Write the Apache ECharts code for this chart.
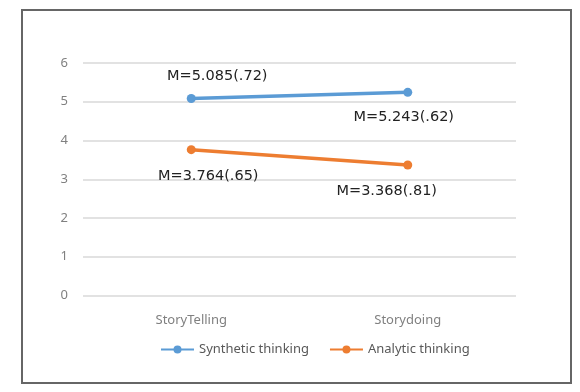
<!DOCTYPE html>
<html>
<head>
<meta charset="utf-8">
<script src="https://cdn.jsdelivr.net/npm/echarts@6/dist/echarts.min.js"></script>
<style>
  html, body { margin: 0; padding: 0; background: #fff; }
  #chart { width: 580px; height: 392px; }
</style>
</head>
<body>
<div id="chart"></div>
<script>
const categories = ["StoryTelling", "Storydoing"]
const seriesNames = ["Synthetic thinking", "Analytic thinking"]
const synMean = [5.085, 5.243]
const synSd = [".72", ".62"]
const anaMean = [3.764, 3.368]
const anaSd = [".65", ".81"]
const yTicks = [0, 1, 2, 3, 4, 5, 6]

// label offsets (px) for each point, relative to the marker centre
const synOffsets = [[26, -22], [-4, 25]]
const anaOffsets = [[17, 27], [-21, 26]]

const chart = echarts.init(document.getElementById("chart"))

const buildData = (means, sds, offsets) =>
  means.map((v, i) => ({
    value: v,
    label: {
      show: true,
      position: "inside",
      align: "center",
      verticalAlign: "middle",
      offset: offsets[i],
      formatter: "M=" + v.toFixed(3) + "(" + sds[i] + ")",
      color: "#222",
      fontSize: 14.5,
      fontFamily: "DejaVu Sans",
    },
  }))

const option = {
  animation: false,
  backgroundColor: "#fff",
  graphic: [
    {
      type: "rect",
      shape: { x: 22, y: 10, width: 549, height: 373 },
      style: { fill: "none", stroke: "#666", lineWidth: 2 },
      z: 100,
    },
  ],
  grid: {
    left: 83,
    right: 64,
    top: 63,
    bottom: 96.5,
  },
  legend: {
    left: 160,
    top: 343,
    padding: 0,
    itemWidth: 33,
    itemHeight: 10,
    itemGap: 20,
    textStyle: { color: "#595959", fontSize: 13, fontFamily: "Noto Sans" },
    data: seriesNames,
  },
  xAxis: {
    type: "category",
    data: categories,
    boundaryGap: true,
    axisLine: { show: false },
    axisTick: { show: false },
    axisLabel: {
      color: "#808080",
      fontSize: 13,
      fontFamily: "Noto Sans",
      margin: 18,
    },
  },
  yAxis: {
    type: "value",
    min: yTicks[0],
    max: yTicks[yTicks.length - 1],
    interval: 1,
    axisLine: { show: false },
    axisTick: { show: false },
    axisLabel: {
      color: "#808080",
      fontSize: 13,
      fontFamily: "Noto Sans",
      margin: 15,
    },
    splitLine: { lineStyle: { color: "#d9d9d9", width: 1.5 } },
  },
  series: [
    {
      name: seriesNames[0],
      type: "line",
      symbol: "circle",
      symbolSize: 9,
      lineStyle: { width: 3.5, color: "#5B9BD5" },
      itemStyle: { color: "#5B9BD5" },
      data: buildData(synMean, synSd, synOffsets),
    },
    {
      name: seriesNames[1],
      type: "line",
      symbol: "circle",
      symbolSize: 9,
      lineStyle: { width: 3.5, color: "#ED7D31" },
      itemStyle: { color: "#ED7D31" },
      data: buildData(anaMean, anaSd, anaOffsets),
    },
  ],
}

chart.setOption(option)
</script>
</body>
</html>
